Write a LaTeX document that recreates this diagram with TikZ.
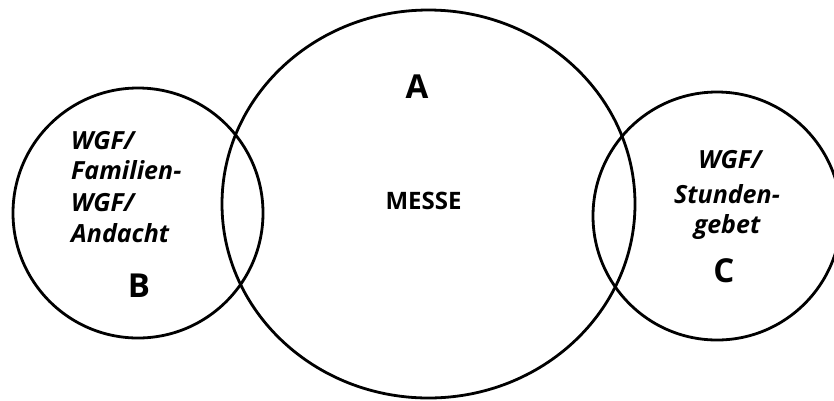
\documentclass[tikz,border=0pt]{standalone}
\usepackage{fontspec}
\setmainfont{Open Sans}
\usetikzlibrary{shapes.geometric}
\begin{document}
\begin{tikzpicture}[x=1pt,y=-1pt,
  ring/.style={draw=black,line width=2.8pt,inner sep=0pt,outer sep=0pt},
  lbl/.style={font=\bfseries\itshape\fontsize{25}{30}\selectfont,inner sep=0pt},
  big/.style={font=\bfseries\fontsize{33}{38}\selectfont,inner sep=0pt},
  mid/.style={font=\bfseries\fontsize{24}{28}\selectfont,inner sep=0pt}]
\useasboundingbox (0,0) rectangle (834,400);
\begin{scope}
\clip (0,0) rectangle (834,400);
\node[ring,ellipse,minimum width=413pt,minimum height=388pt] (A) at (428.5,204) {};
\node[ring,circle,minimum size=250pt] (B) at (138,213) {};
\node[ring,circle,minimum size=248pt] (C) at (717,216) {};
\end{scope}
\node[big,anchor=base] (tA) at (417,98) {A};
\node[mid,anchor=base] (tM) at (423.5,209) {MESSE};
\node[lbl,anchor=base west] (b1) at (71,149) {WGF/};
\node[lbl,anchor=base west] (b2) at (71,179) {Familien-};
\node[lbl,anchor=base west] (b3) at (71,211) {WGF/};
\node[lbl,anchor=base west] (b4) at (71,242) {Andacht};
\node[big,anchor=base] (tB) at (139,297) {B};
\node[lbl,anchor=base] (c1) at (730,168) {WGF/};
\node[lbl,anchor=base] (c2) at (727,203) {Stunden-};
\node[lbl,anchor=base] (c3) at (727,233) {gebet};
\node[big,anchor=base] (tC) at (724,282) {C};
\end{tikzpicture}
\end{document}
